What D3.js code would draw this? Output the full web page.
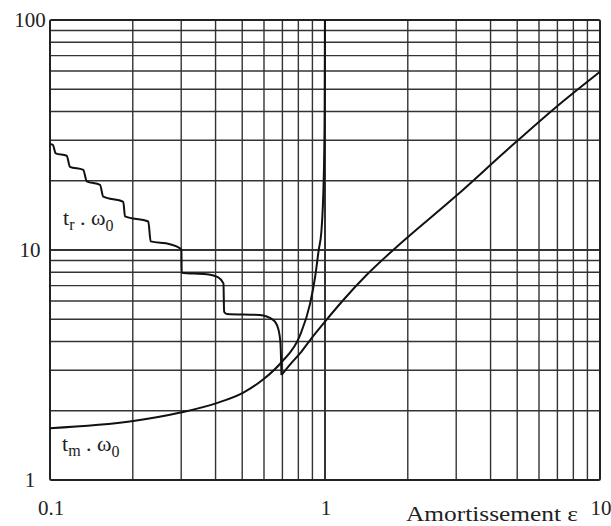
<!DOCTYPE html>
<head>
<meta charset="utf-8">
<title>Temps de reponse et temps de montee</title>
<script type="text/javascript" src="https://d3js.org/d3.v7.min.js"></script>
<style>
  body { margin: 0; background: #fff; }
  text { font-family: "Liberation Serif", "DejaVu Serif", serif; fill: #222; }
</style>
</head>
<body>
<div id="container"></div>
<script>
//---------------------------DATA--------------------------------//
// values (epsilon, t * w0)
const xTicks = [0.1, 1, 10];
const yTicks = [1, 10, 100];

// t_r . w0 : 5% response time, staircase down to the minimum
const trStairEps = [0.1, 0.1025, 0.1049, 0.115, 0.1182, 0.1321, 0.136, 0.152, 0.1562,
                    0.1847, 0.1874, 0.2277, 0.2323, 0.273, 0.2968, 0.3005, 0.3012,
                    0.3714, 0.409, 0.4273, 0.4297, 0.4392, 0.5793, 0.6475, 0.6752,
                    0.6887, 0.6945];
const trStairVal = [28.9, 28.6, 26.3, 25.7, 23.0, 22.3, 19.9, 19.2, 17.05,
                    16.2, 14.0, 13.3, 10.9, 10.6, 10.17, 10.0, 7.97,
                    7.84, 7.6, 7.16, 5.39, 5.27, 5.22, 4.97, 4.57,
                    3.93, 2.86];
// t_r . w0 : rising branch after the minimum
const trRiseEps = [0.6945, 0.75, 0.811, 0.883, 1.0, 1.166, 1.416, 1.771, 3.0, 4.59, 6.95, 10];
const trRiseVal = [2.86, 3.2, 3.55, 4.06, 4.88, 6.06, 7.78, 10, 17.2, 27.2, 42.0, 59.6];

// t_m . w0 : rise time, vertical asymptote at epsilon = 1
const tmEps = [0.1, 0.2008, 0.3011, 0.4036, 0.5047, 0.5969, 0.6945, 0.811,
               0.8831, 0.9208, 0.9487, 0.97, 0.99, 0.997, 0.9995];
const tmVal = [1.68, 1.805, 1.97, 2.16, 2.40, 2.74, 3.25, 4.25,
               5.86, 7.65, 10, 12, 21, 40, 100];

//---------------------------SVG---------------------------------//
const W = 611, H = 526;
const plot = {left: 50, top: 20, right: 600, bottom: 480};

const svg = d3.select("#container").append("svg")
    .attr("width", W)
    .attr("height", H);

//--------------------------SCALES-------------------------------//
const x = d3.scaleLog().domain([0.1, 10]).range([plot.left, plot.right]);
const y = d3.scaleLog().domain([1, 100]).range([plot.bottom, plot.top]);

const isDecade = function(v) {
    const l = Math.log10(v);
    return Math.abs(l - Math.round(l)) < 1e-9;
};

//---------------------------GRID--------------------------------//
const grid = svg.append("g").attr("class", "grid");

grid.selectAll("line.vx")
    .data(x.ticks().filter(function(d) { return d > 0.1 && d < 10; }))
    .enter().append("line")
    .attr("x1", function(d) { return x(d); })
    .attr("x2", function(d) { return x(d); })
    .attr("y1", plot.top)
    .attr("y2", plot.bottom)
    .attr("stroke", "#333")
    .attr("stroke-width", function(d) { return isDecade(d) ? 2 : 1.4; });

grid.selectAll("line.hy")
    .data(y.ticks().filter(function(d) { return d > 1 && d < 100; }))
    .enter().append("line")
    .attr("y1", function(d) { return y(d); })
    .attr("y2", function(d) { return y(d); })
    .attr("x1", plot.left)
    .attr("x2", plot.right)
    .attr("stroke", "#333")
    .attr("stroke-width", function(d) { return isDecade(d) ? 2 : 1.4; });

// frame
svg.append("rect")
    .attr("x", plot.left)
    .attr("y", plot.top)
    .attr("width", plot.right - plot.left)
    .attr("height", plot.bottom - plot.top)
    .attr("rx", 1.5)
    .attr("fill", "none")
    .attr("stroke", "#222")
    .attr("stroke-width", 2);

//---------------------------LINES-------------------------------//
const pts = function(es, vs) {
    return es.map(function(e, i) { return {e: e, v: vs[i]}; });
};

const line = d3.line()
    .curve(d3.curveMonotoneX)
    .x(function(d) { return x(d.e); })
    .y(function(d) { return y(d.v); });

[pts(trStairEps, trStairVal), pts(trRiseEps, trRiseVal), pts(tmEps, tmVal)]
  .forEach(function(s) {
    svg.append("path")
        .attr("d", line(s))
        .attr("fill", "none")
        .attr("stroke", "#111")
        .attr("stroke-width", 2)
        .attr("stroke-linejoin", "round");
  });

//------------------------TICK LABELS----------------------------//
svg.selectAll("text.ylab")
    .data(yTicks)
    .enter().append("text")
    .attr("class", "ylab")
    .attr("x", 30)
    .attr("y", function(d) { return y(d) + 7; })
    .attr("text-anchor", "middle")
    .style("font-size", "21px")
    .text(function(d) { return d; });

svg.selectAll("text.xlab")
    .data(xTicks)
    .enter().append("text")
    .attr("class", "xlab")
    .attr("x", function(d) { return x(d) + 1; })
    .attr("y", 515)
    .attr("text-anchor", "middle")
    .style("font-size", "21px")
    .text(function(d) { return d; });

svg.append("text")
    .attr("x", 406)
    .attr("y", 521)
    .attr("textLength", 172)
    .attr("lengthAdjust", "spacingAndGlyphs")
    .style("font-size", "21px")
    .text("Amortissement \u03b5");

//-------------------------CURVE NAMES---------------------------//
function curveName(xp, yp, sub) {
    const t = svg.append("text")
        .attr("x", xp)
        .attr("y", yp)
        .style("font-size", "22px");
    t.append("tspan").text("t");
    t.append("tspan").attr("dy", 5).style("font-size", "16px").text(sub);
    t.append("tspan").attr("dy", -5).text(" . \u03c9");
    t.append("tspan").attr("dy", 6).style("font-size", "16px").text("0");
}
curveName(63, 225, "r");
curveName(62, 451, "m");
</script>
</body>
